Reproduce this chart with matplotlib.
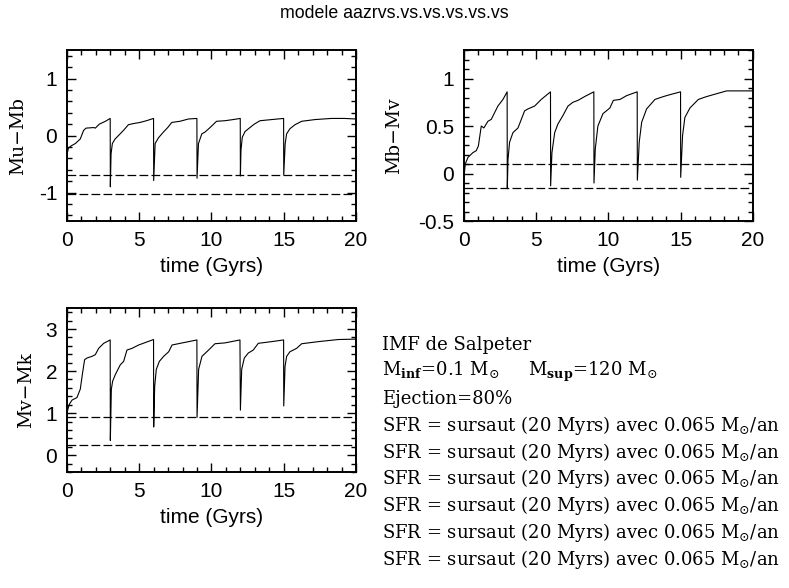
import matplotlib
matplotlib.use("Agg")
import matplotlib.pyplot as plt
from matplotlib.ticker import MultipleLocator, FormatStrFormatter

# temps (Gyr) et couleurs
t_ub = [0.0, 0.03, 0.1, 0.3, 0.58, 0.92, 1.15, 1.32, 1.85, 1.96, 2.24, 2.66, 2.99,
        3.0, 3.05, 3.14, 3.33, 3.68, 3.91, 4.25, 4.6, 5.06, 5.5, 5.99,
        6.0, 6.1, 6.33, 6.67, 6.97, 7.25, 7.82, 8.4, 8.99,
        9.0, 9.1, 9.33, 9.55, 9.9, 10.35, 10.93, 11.5, 11.99,
        12.0, 12.04, 12.13, 12.32, 12.66, 12.96, 13.36, 14.16, 14.99,
        15.0, 15.1, 15.2, 15.43, 15.78, 16.24, 17.16, 18.3, 19.2, 20.0]
mu_mb = [-0.45, -0.3, -0.22, -0.18, -0.14, -0.06, 0.09, 0.13, 0.14, 0.13, 0.2, 0.25, 0.30,
         -0.90, -0.32, -0.14, -0.06, 0.03, 0.09, 0.19, 0.21, 0.23, 0.26, 0.30,
         -0.79, -0.14, -0.04, 0.06, 0.14, 0.23, 0.25, 0.29, 0.30,
         -0.75, -0.14, 0.03, 0.06, 0.14, 0.25, 0.26, 0.28, 0.30,
         -0.71, -0.26, -0.03, 0.07, 0.14, 0.20, 0.26, 0.28, 0.30,
         -0.69, -0.14, 0.03, 0.12, 0.19, 0.25, 0.28, 0.30, 0.30, 0.29]

t_bv = [0.0, 0.05, 0.09, 0.28, 0.62, 0.85, 1.0, 1.2, 1.38, 1.66, 1.89, 2.12, 2.35, 2.7, 2.99,
        3.0, 3.05, 3.16, 3.39, 3.74, 3.97, 4.2, 4.43, 4.89, 5.35, 5.99,
        6.0, 6.09, 6.28, 6.5, 6.85, 7.2, 7.54, 7.89, 8.35, 8.99,
        9.0, 9.09, 9.27, 9.62, 10.1, 10.34, 10.8, 11.26, 11.99,
        12.0, 12.13, 12.3, 12.64, 13.22, 13.8, 14.25, 14.99,
        15.0, 15.13, 15.29, 15.64, 16.22, 16.79, 17.48, 18.18, 19.56, 20.0]
mb_mv = [-0.02, 0.03, 0.10, 0.17, 0.22, 0.24, 0.29, 0.50, 0.48, 0.55, 0.57, 0.64, 0.71, 0.78, 0.86,
         -0.16, 0.15, 0.33, 0.43, 0.48, 0.57, 0.66, 0.68, 0.71, 0.78, 0.86,
         -0.13, 0.22, 0.43, 0.52, 0.61, 0.71, 0.75, 0.77, 0.81, 0.86,
         -0.10, 0.26, 0.50, 0.63, 0.69, 0.77, 0.78, 0.82, 0.86,
         -0.07, 0.33, 0.54, 0.68, 0.78, 0.81, 0.83, 0.86,
         -0.04, 0.40, 0.59, 0.69, 0.78, 0.81, 0.84, 0.87, 0.87, 0.87]

t_vk = [0.0, 0.07, 0.16, 0.35, 0.69, 0.92, 1.08, 1.22, 1.38, 1.73, 1.96, 2.19, 2.54, 2.99,
        3.0, 3.07, 3.16, 3.35, 3.69, 3.92, 4.15, 4.5, 4.96, 5.99,
        6.0, 6.07, 6.18, 6.39, 6.69, 7.04, 7.27, 7.84, 8.42, 8.99,
        9.0, 9.11, 9.34, 9.8, 10.24, 10.93, 11.97,
        12.0, 12.09, 12.27, 12.55, 12.89, 13.24, 14.16, 14.99,
        15.0, 15.09, 15.2, 15.43, 15.89, 16.24, 17.39, 18.77, 20.0]
mv_mk = [1.0, 1.10, 1.21, 1.31, 1.37, 1.57, 1.96, 2.27, 2.31, 2.35, 2.39, 2.54, 2.66, 2.74,
         0.35, 1.57, 1.76, 1.92, 2.15, 2.23, 2.50, 2.54, 2.62, 2.75,
         0.67, 1.64, 2.04, 2.23, 2.35, 2.46, 2.62, 2.66, 2.70, 2.74,
         0.90, 2.04, 2.35, 2.50, 2.65, 2.67, 2.74,
         1.07, 2.04, 2.31, 2.43, 2.50, 2.66, 2.70, 2.74,
         1.17, 2.11, 2.35, 2.46, 2.54, 2.65, 2.70, 2.75, 2.76]

# lignes de reference (tirets)
ref_ub = [-0.7, -1.02]
ref_bv = [0.1, -0.15]
ref_vk = [0.9, 0.25]

info_lines = [
    "IMF de Salpeter",
    r"M$_{\mathbf{inf}}$=0.1 M$_{\odot}$     M$_{\mathbf{sup}}$=120 M$_{\odot}$",
    "Ejection=80%",
] + [r"SFR = sursaut (20 Myrs) avec 0.065 M$_{\odot}$/an"] * 6

plt.rcParams['font.family'] = ['Liberation Sans', 'DejaVu Sans']
plt.rcParams['axes.unicode_minus'] = False
plt.rcParams['mathtext.fontset'] = 'dejavuserif'

fig = plt.figure(figsize=(7.89, 5.88), dpi=100)
ax1 = fig.add_axes([0.0849, 0.6241, 0.3663, 0.2908])
ax2 = fig.add_axes([0.588, 0.6241, 0.3663, 0.2908])
ax3 = fig.add_axes([0.0849, 0.1973, 0.3663, 0.2789])

panels = [
    (ax1, t_ub, mu_mb, ref_ub, "Mu\u2212Mb", (-1.5, 1.5), 1, 0.2, -0.138),
    (ax2, t_bv, mb_mv, ref_bv, "Mb\u2212Mv", (-0.5, 1.3), 0.5, 0.1, -0.211),
    (ax3, t_vk, mv_mk, ref_vk, "Mv\u2212Mk", (-0.4, 3.5), 1, 0.2, -0.11),
]

for ax, t, c, refs, lab, ylim, maj, mnr, lx in panels:
    ax.plot(t, c, color='black', lw=0.8)
    for r in refs:
        ax.axhline(r, color='black', lw=0.9, dashes=(7, 2.6))
    ax.set_xlim(0, 20)
    ax.set_ylim(*ylim)
    ax.xaxis.set_major_locator(MultipleLocator(5))
    ax.xaxis.set_minor_locator(MultipleLocator(1))
    ax.yaxis.set_major_locator(MultipleLocator(maj))
    ax.yaxis.set_minor_locator(MultipleLocator(mnr))
    ax.yaxis.set_major_formatter(FormatStrFormatter('%g'))
    ax.tick_params(which='both', direction='in', top=True, right=True, width=1.0)
    ax.tick_params(which='major', length=6.5, labelsize=15, pad=7)
    ax.tick_params(which='minor', length=3.5)
    for s in ax.spines.values():
        s.set_linewidth(1.4)
    ax.set_ylabel(lab, family='DejaVu Serif', fontsize=13.5)
    ax.yaxis.set_label_coords(lx, 0.5)
    ax.set_xlabel("time (Gyrs)", fontsize=15, labelpad=5)

fig.text(0.5, 1 - 14 / 588, "modele aazrvs.vs.vs.vs.vs.vs", ha='center', va='center', fontsize=12.8)

for i, line in enumerate(info_lines):
    fig.text(382 / 789, 1 - (345 + i * 26.8) / 588, line, ha='left', va='center',
             family='DejaVu Serif', fontsize=13)

fig.savefig("out.png", dpi=100)
